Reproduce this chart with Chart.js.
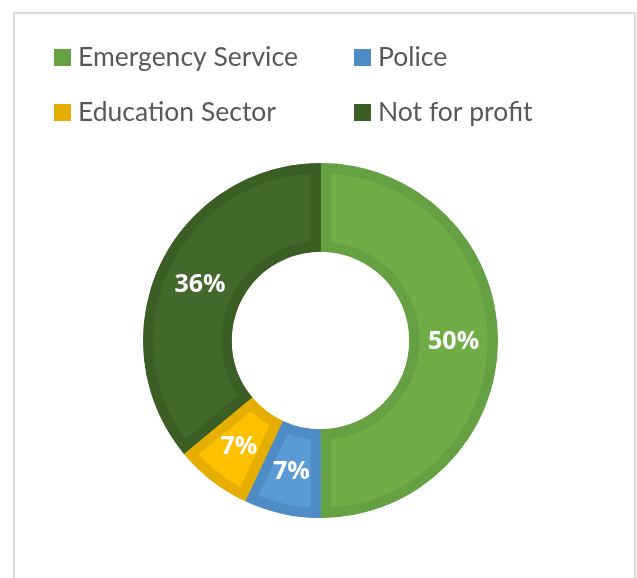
<!DOCTYPE html>
<html>
<head>
<meta charset="utf-8">
<script src="https://cdn.jsdelivr.net/npm/chart.js@4/dist/chart.umd.min.js"></script>
<style>
  html, body { margin: 0; padding: 0; background: #ffffff; }
  #wrap { width: 637px; height: 578px; position: relative; }
</style>
</head>
<body>
<div id="wrap"><canvas id="chart" width="637" height="578"></canvas></div>
<script>
// Sector shares (percent)
const categories = ['Emergency Service', 'Police', 'Education Sector', 'Not for profit'];
const shares = [50, 7, 7, 36];
const fillColors = ['#70AD47', '#5B9BD5', '#FFC000', '#43682B'];
const edgeColors = ['#65A042', '#4F8BC4', '#E6AE00', '#3B5E25'];

// Light grey frame around the chart
const framePlugin = {
  id: 'frame',
  beforeDraw(chart) {
    const ctx = chart.ctx;
    ctx.save();
    ctx.fillStyle = '#D9D9D9';
    ctx.fillRect(13, 12, 623, 2);   // top
    ctx.fillRect(13, 12, 2, 566);   // left
    ctx.fillRect(634, 12, 2, 566);  // right
    ctx.restore();
  }
};

// Two-column legend above the ring
const gridLegend = {
  id: 'gridLegend',
  afterDraw(chart) {
    const ctx = chart.ctx;
    const labels = chart.data.labels;
    const colors = edgeColors;
    const cols = [54, 354];
    const baselines = [66, 121];
    ctx.save();
    ctx.font = '26.5px Lato';
    ctx.textBaseline = 'alphabetic';
    ctx.textAlign = 'left';
    labels.forEach((lab, i) => {
      const x = cols[i % 2];
      const y = baselines[Math.floor(i / 2)];
      ctx.fillStyle = colors[i];
      ctx.fillRect(x, y - 17, 17, 17);
      ctx.fillStyle = '#595959';
      ctx.fillText(lab, x + 24, y);
    });
    ctx.restore();
  }
};

// Percentage labels in the middle of each segment
const sliceLabels = {
  id: 'sliceLabels',
  afterDatasetsDraw(chart) {
    const ctx = chart.ctx;
    const meta = chart.getDatasetMeta(0);
    const values = chart.data.datasets[0].data;
    ctx.save();
    ctx.font = 'bold 25px "Open Sans"';
    ctx.fillStyle = '#FFFFFF';
    ctx.textAlign = 'center';
    ctx.textBaseline = 'middle';
    meta.data.forEach((arc, i) => {
      const p = arc.tooltipPosition();
      ctx.fillText(values[i] + '%', p.x, p.y + 1);
    });
    ctx.restore();
  }
};

new Chart(document.getElementById('chart'), {
  type: 'doughnut',
  data: {
    labels: categories,
    datasets: [{
      data: shares,
      backgroundColor: fillColors,
      borderColor: edgeColors,
      borderWidth: 10,
      borderAlign: 'inner',
      borderJoinStyle: 'miter',
      hoverOffset: 0
    }]
  },
  options: {
    responsive: false,
    animation: false,
    devicePixelRatio: 1,
    cutout: '50%',
    radius: 177.5,
    layout: { padding: { left: 143, right: 139, top: 163, bottom: 60 } },
    plugins: {
      legend: { display: false },
      tooltip: { enabled: false }
    },
    events: []
  },
  plugins: [framePlugin, gridLegend, sliceLabels]
});
</script>
</body>
</html>
